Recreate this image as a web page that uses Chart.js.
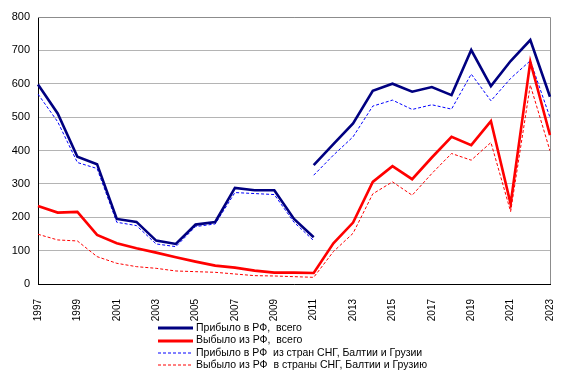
<!DOCTYPE html>
<html>
<head>
<meta charset="utf-8">
<script src="https://cdn.jsdelivr.net/npm/chart.js@4/dist/chart.umd.min.js"></script>
<style>
	html, body { margin: 0; padding: 0; background: #fff; }
	#wrap { position: relative; width: 569px; height: 372px; }
	#legend { position: absolute; left: 158px; top: 321px; font: 10.5px "Liberation Sans", Arial, sans-serif; color: #000; }
	#legend div { height: 12.4px; line-height: 12.4px; white-space: pre; }
	#legend svg { vertical-align: middle; margin-right: 3px; }
</style>
</head>
<body>
<div id="wrap">
	<canvas id="chart" width="569" height="372"></canvas>
	<div id="legend"></div>
</div>
<script>
var years = ['1997', '1998', '1999', '2000', '2001', '2002', '2003', '2004', '2005', '2006', '2007', '2008', '2009',
	'2010', '2011', '2012', '2013', '2014', '2015', '2016', '2017', '2018', '2019', '2020', '2021', '2022', '2023'];

// прибыло в РФ, всего (старая и новая методика учёта, разрыв в 2011)
var arrivedTotalOld = [598, 511, 381, 359, 195, 186, 130, 120, 178, 186, 288, 281, 281, 195, 140,
	null, null, null, null, null, null, null, null, null, null, null, null];
var arrivedTotalNew = [null, null, null, null, null, null, null, null, null, null, null, null, null, null,
	356, 419, 481, 579, 600, 576, 590, 566, 701, 593, 668, 731, 561];

var leftTotal = [234, 214, 216, 147, 122, 107, 94, 80, 67, 55, 49, 40, 34, 34, 33,
	122, 184, 306, 353, 314, 379, 441, 416, 488, 240, 666, 446];

// из стран СНГ, Балтии и Грузии
var arrivedCisOld = [569, 486, 364, 346, 185, 175, 120, 112, 172, 180, 274, 271, 268, 185, 130,
	null, null, null, null, null, null, null, null, null, null, null, null];
var arrivedCisNew = [null, null, null, null, null, null, null, null, null, null, null, null, null, null,
	326, 386, 441, 533, 551, 523, 537, 524, 629, 549, 616, 669, 499];

var leftCis = [149, 132, 129, 82, 62, 52, 47, 39, 37, 35, 30, 25, 24, 22, 20,
	97, 152, 270, 306, 266, 331, 391, 371, 424, 217, 596, 399];

var yTicks = [0, 100, 200, 300, 400, 500, 600, 700, 800];

Chart.defaults.font.family = '"Liberation Sans", Arial, sans-serif';
Chart.defaults.font.size = 11;
Chart.defaults.color = '#000';

function line(label, data, color, width, dash, inLegend) {
	return {
		label: label,
		data: data,
		borderColor: color,
		backgroundColor: color,
		borderWidth: width,
		borderDash: dash,
		pointRadius: 0,
		tension: 0,
		spanGaps: false,
		inLegend: inLegend
	};
}

// серая рамка области построения (верх и право)
var plotFrame = {
	id: 'plotFrame',
	beforeDatasetsDraw: function(chart) {
		var a = chart.chartArea, ctx = chart.ctx;
		ctx.save();
		ctx.strokeStyle = '#8c8c8c';
		ctx.lineWidth = 1;
		ctx.beginPath();
		ctx.moveTo(a.left, a.top + 0.5);
		ctx.lineTo(a.right + 0.5, a.top + 0.5);
		ctx.lineTo(a.right + 0.5, a.bottom);
		ctx.stroke();
		ctx.restore();
	}
};

var chart = new Chart(document.getElementById('chart'), {
	type: 'line',
	data: {
		labels: years,
		datasets: [
			line('Прибыло в РФ,  всего', arrivedTotalOld, '#000080', 2.6, [], true),
			line('Выбыло из РФ,  всего', leftTotal, '#ff0000', 2.6, [], true),
			line('Прибыло в РФ  из стран СНГ, Балтии и Грузии', arrivedCisOld, '#0000ff', 1, [3, 2], true),
			line('Выбыло из РФ  в страны СНГ, Балтии и Грузию', leftCis, '#ff0000', 1, [3, 2], true),
			line('Прибыло в РФ,  всего', arrivedTotalNew, '#000080', 2.6, [], false),
			line('Прибыло в РФ  из стран СНГ, Балтии и Грузии', arrivedCisNew, '#0000ff', 1, [3, 2], false)
		]
	},
	options: {
		responsive: false,
		animation: false,
		devicePixelRatio: 1,
		layout: { padding: { left: 0, right: 17, top: 17, bottom: 50 } },
		plugins: {
			legend: { display: false },
			tooltip: { enabled: false }
		},
		scales: {
			x: {
				offset: false,
				grid: { display: false },
				border: { color: '#000', width: 1 },
				ticks: {
					autoSkip: false,
					minRotation: 90,
					maxRotation: 90,
					padding: 7,
					font: { size: 10 },
					callback: function(v, i) {
						return i % 2 === 0 ? years[i] : '';
					}
				},
				afterFit: function(scale) { scale.height = 38; }
			},
			y: {
				min: 0,
				max: 800,
				afterBuildTicks: function(scale) {
					scale.ticks = yTicks.map(function(v) { return { value: v }; });
				},
				grid: { color: '#b4b4b4', drawTicks: false },
				border: { color: '#000', width: 1 },
				ticks: { padding: 8 },
				afterFit: function(scale) { scale.width = 38; }
			}
		}
	},
	plugins: [plotFrame]
});

// легенда столбиком под графиком
var svgNS = 'http://www.w3.org/2000/svg';
var legend = document.getElementById('legend');
chart.data.datasets.forEach(function(ds) {
	if (!ds.inLegend) return;
	var row = document.createElement('div');
	var svg = document.createElementNS(svgNS, 'svg');
	svg.setAttribute('width', '35');
	svg.setAttribute('height', '4');
	var ln = document.createElementNS(svgNS, 'line');
	ln.setAttribute('x1', '0');
	ln.setAttribute('x2', '35');
	ln.setAttribute('y1', '2');
	ln.setAttribute('y2', '2');
	ln.setAttribute('stroke', ds.borderColor);
	ln.setAttribute('stroke-width', ds.borderDash.length ? '1' : '3');
	if (ds.borderDash.length) ln.setAttribute('stroke-dasharray', ds.borderDash.join(','));
	svg.appendChild(ln);
	row.appendChild(svg);
	row.appendChild(document.createTextNode(ds.label));
	legend.appendChild(row);
});
</script>
</body>
</html>
